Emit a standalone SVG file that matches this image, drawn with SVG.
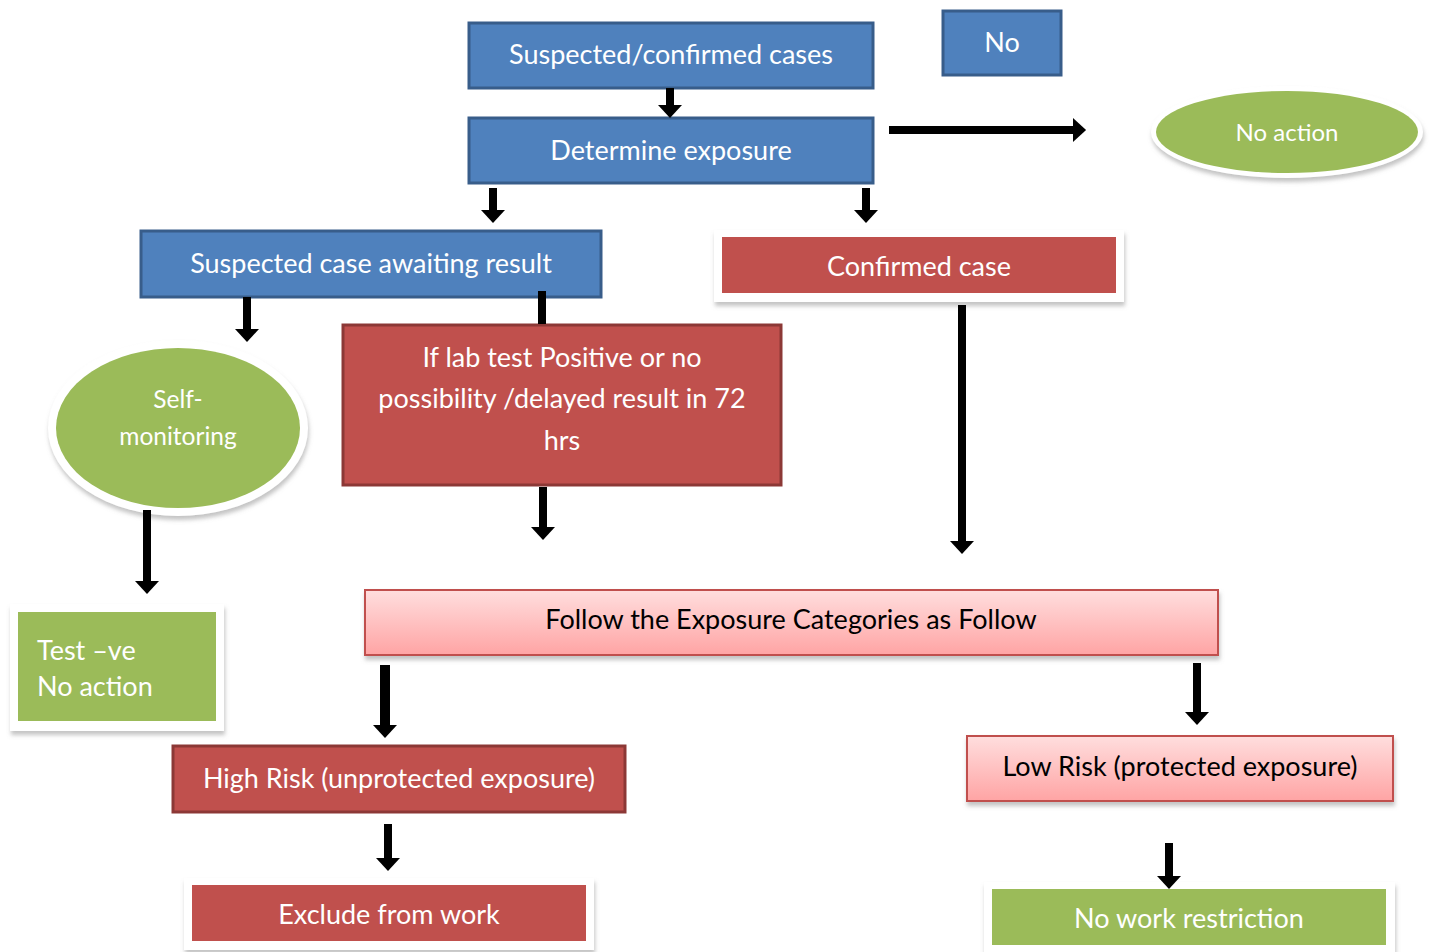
<svg xmlns="http://www.w3.org/2000/svg" width="1430" height="952" viewBox="0 0 1430 952">
<defs>
<style>
.t{font-family:Lato,"Open Sans","Liberation Sans",sans-serif;font-size:27px;fill:#fff;text-anchor:middle}
.blue{fill:#4F81BD;stroke:#385D8A;stroke-width:3}
.red{fill:#C0504D;stroke:#8C3836;stroke-width:3}
.redf{fill:#C0504D}
.green{fill:#9BBB59}
.frame{fill:#fff;filter:url(#sh)}
.pink{fill:url(#pg);stroke:#C0504D;stroke-width:2;filter:url(#sh)}
.c{stroke:#000;stroke-width:8;fill:none;marker-end:url(#ah)}
.cn{stroke:#000;stroke-width:8;fill:none}
</style>
<linearGradient id="pg" x1="0" y1="0" x2="0" y2="1">
<stop offset="0" stop-color="#FFDEDE"/>
<stop offset="1" stop-color="#FFA4A4"/>
</linearGradient>
<filter id="sh" x="-10%" y="-20%" width="120%" height="150%">
<feDropShadow dx="1" dy="4" stdDeviation="2" flood-color="#888" flood-opacity="0.5"/>
</filter>
<marker id="ah" markerUnits="userSpaceOnUse" markerWidth="14" markerHeight="24" viewBox="0 0 12 22" refX="0" refY="11" orient="auto">
<path d="M0,0 L12,11 L0,22 z" fill="#000"/>
</marker>
</defs>
<rect width="1430" height="952" fill="#fff"/>

<g id="n1">
<rect class="blue" x="469" y="23" width="404" height="65"/>
<text class="t" x="671" y="64">Suspected/confirmed cases</text>
</g>
<g id="n2">
<rect class="blue" x="469" y="118" width="404" height="65"/>
<text class="t" x="671" y="160">Determine exposure</text>
</g>
<g id="n3">
<rect class="blue" x="943" y="11" width="118" height="64"/>
<text class="t" x="1002" y="52">No</text>
</g>
<g id="n4">
<ellipse cx="1287" cy="132" rx="136" ry="46" fill="#fff" filter="url(#sh)"/>
<ellipse class="green" cx="1287" cy="132" rx="131" ry="41"/>
<text class="t" x="1287" y="141" style="font-size:24px">No action</text>
</g>
<g id="n5">
<rect class="blue" x="141" y="231" width="460" height="66"/>
<text class="t" x="371" y="273">Suspected case awaiting result</text>
</g>
<g id="n6">
<rect class="frame" x="714" y="230" width="410" height="72"/>
<rect class="redf" x="722" y="237" width="394" height="56"/>
<text class="t" x="919" y="276">Confirmed case</text>
</g>
<g id="n7">
<ellipse cx="178" cy="428" rx="130" ry="88" fill="#fff" filter="url(#sh)"/>
<ellipse class="green" cx="178" cy="428" rx="122" ry="80"/>
<text class="t" x="178" y="408" style="font-size:24.5px">Self-</text>
<text class="t" x="178" y="445" style="font-size:24.5px">monitoring</text>
</g>
<g id="n8">
<rect class="red" x="343" y="325" width="438" height="160"/>
<text class="t" x="562" y="367">If lab test Positive or no</text>
<text class="t" x="562" y="408">possibility /delayed result in 72</text>
<text class="t" x="562" y="450">hrs</text>
</g>
<g id="n9">
<rect class="frame" x="10" y="604" width="214" height="127"/>
<rect class="green" x="18" y="612" width="198" height="109"/>
<text class="t" x="37" y="660" style="text-anchor:start">Test –ve</text>
<text class="t" x="37" y="696" style="text-anchor:start">No action</text>
</g>
<g id="n10">
<rect class="pink" x="365" y="590" width="853" height="65"/>
<text class="t" x="791" y="629" style="fill:#000">Follow the Exposure Categories as Follow</text>
</g>
<g id="n11">
<rect class="red" x="173" y="746" width="452" height="66"/>
<text class="t" x="399" y="788">High Risk (unprotected exposure)</text>
</g>
<g id="n12">
<rect class="frame" x="184" y="878" width="410" height="72"/>
<rect class="redf" x="192" y="885" width="394" height="56"/>
<text class="t" x="389" y="924">Exclude from work</text>
</g>
<g id="n13">
<rect class="pink" x="967" y="736" width="426" height="65"/>
<text class="t" x="1180" y="776" style="fill:#000">Low Risk (protected exposure)</text>
</g>
<g id="n14">
<rect class="frame" x="984" y="882" width="411" height="72"/>
<rect class="green" x="992" y="889" width="394" height="56"/>
<text class="t" x="1189" y="928">No work restriction</text>
</g>

<g id="connectors">
<line class="c" x1="670" y1="88" x2="670" y2="105"/>
<line class="c" x1="493" y1="188" x2="493" y2="210"/>
<line class="c" x1="866" y1="188" x2="866" y2="210"/>
<line class="c" x1="889" y1="130" x2="1073" y2="130"/>
<line class="c" x1="247" y1="297" x2="247" y2="329"/>
<line class="cn" x1="542" y1="291" x2="542" y2="324"/>
<line class="c" x1="543" y1="487" x2="543" y2="527"/>
<line class="c" x1="962" y1="305" x2="962" y2="541"/>
<line class="c" x1="147" y1="510" x2="147" y2="581"/>
<line class="c" x1="385" y1="665" x2="385" y2="725" style="stroke-width:10"/>
<line class="c" x1="1197" y1="663" x2="1197" y2="712"/>
<line class="c" x1="388" y1="824" x2="388" y2="858"/>
<line class="c" x1="1169" y1="843" x2="1169" y2="876"/>
</g>
</svg>
